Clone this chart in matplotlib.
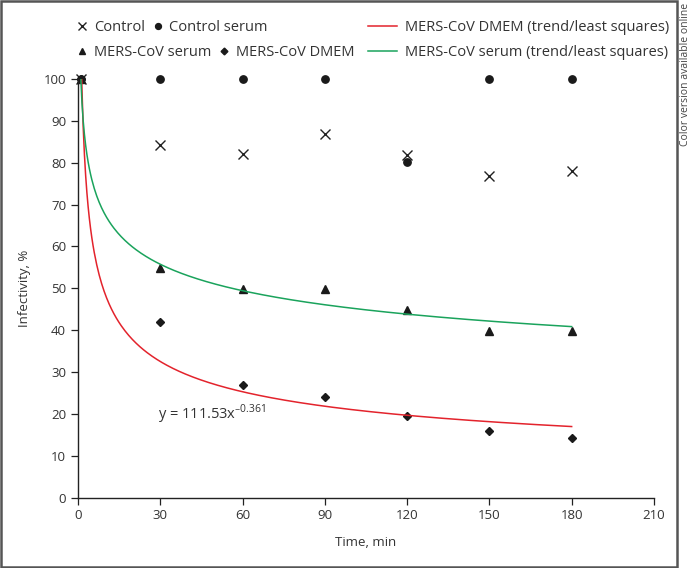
#!/usr/bin python3

# import required libraries
import numpy as np
import matplotlib
matplotlib.use("Agg")
import matplotlib.pyplot as plt
from matplotlib.patches import Rectangle

plt.rcParams['font.family'] = ['Open Sans', 'DejaVu Sans']

# time points, min (first point at 1 min so the power trend can be fitted)
time = [1, 30, 60, 90, 120, 150, 180]

control = [100, 84.3, 82.0, 86.8, 81.8, 76.8, 78.1]
control_serum = [100, 100, 100, 100, 80.2, 100, 100]
mers_serum = [100, 54.8, 49.8, 49.8, 44.7, 39.8, 39.8]
mers_dmem = [100, 42.0, 27.0, 24.1, 19.6, 15.8, 14.3]

x_ticks = [0, 30, 60, 90, 120, 150, 180, 210]
y_ticks = [0, 10, 20, 30, 40, 50, 60, 70, 80, 90, 100]


def power_trend(x, y):
    # least squares in log space, like a spreadsheet power trendline
    b, log_a = np.polyfit(np.log(x), np.log(y), 1)
    return np.exp(log_a), b


def main():
    fig = plt.figure(figsize=(6.92, 5.68), dpi=100)
    ax = fig.add_axes([0.1127, 0.124, 0.8323, 0.737])

    ax.plot(time, control, linestyle='none', marker='x', color='#222222',
            markersize=7, markeredgewidth=1.0, label='Control', clip_on=False)
    ax.plot(time, control_serum, linestyle='none', marker='o', color='#1a1a1a',
            markersize=5.3, label='Control serum', clip_on=False)
    ax.plot(time, mers_serum, linestyle='none', marker='^', color='#1a1a1a',
            markersize=5.8, label='MERS-CoV serum', clip_on=False)
    ax.plot(time, mers_dmem, linestyle='none', marker='D', color='#1a1a1a',
            markersize=4.3, label='MERS-CoV DMEM', clip_on=False)

    xs = np.linspace(1, 180, 400)
    a_d, b_d = power_trend(time, mers_dmem)
    a_s, b_s = power_trend(time, mers_serum)
    red, = ax.plot(xs, a_d * xs ** b_d, color='#e3232c', linewidth=1.1,
                   label='MERS-CoV DMEM (trend/least squares)')
    green, = ax.plot(xs, a_s * xs ** b_s, color='#1aa35c', linewidth=1.1,
                     label='MERS-CoV serum (trend/least squares)')

    ax.text(29, 19.9, 'y = 111.53x$^{\\mathregular{\u20130.361}}$', fontsize=10.5,
            color='#333333', va='center')

    ax.set_xlim(0, 210)
    ax.set_ylim(0, 100)
    ax.set_xticks(x_ticks)
    ax.set_yticks(y_ticks)
    ax.spines['top'].set_visible(False)
    ax.spines['right'].set_visible(False)
    for s in ['left', 'bottom']:
        ax.spines[s].set_color('#222222')
        ax.spines[s].set_linewidth(1.0)
    ax.tick_params(direction='out', length=5, width=0.9, colors='#222222',
                   labelsize=9.5, labelcolor='#333333')
    ax.set_xlabel('Time, min', fontsize=9.5, color='#333333', labelpad=10)
    ax.set_ylabel('Infectivity, %', fontsize=9.5, color='#333333', labelpad=9)

    # legend laid out in rows like the original
    h = ax.get_legend_handles_labels()[0]
    opts = dict(frameon=False, fontsize=10.5, handletextpad=0.3, borderpad=0,
                borderaxespad=0, columnspacing=0.4, handlelength=1.0,
                labelcolor='#333333', markerscale=0.8)
    fig.legend(h[0:2], ['Control', 'Control serum'], ncol=2,
               loc='center left', bbox_to_anchor=(0.108, 0.951), **opts)
    fig.legend(h[2:4], ['MERS-CoV serum', 'MERS-CoV DMEM'], ncol=2,
               loc='center left', bbox_to_anchor=(0.108, 0.907), **opts)
    opts['handlelength'] = 2.0
    opts['handletextpad'] = 0.55
    fig.legend([red], [red.get_label()], loc='center left',
               bbox_to_anchor=(0.532, 0.951), **opts)
    fig.legend([green], [green.get_label()], loc='center left',
               bbox_to_anchor=(0.532, 0.907), **opts)

    # frame around the figure and side note
    fig.patches.append(Rectangle((0.001, 0.002), 0.977, 0.996,
                                 transform=fig.transFigure, fill=False,
                                 edgecolor='#555555', linewidth=1.8))
    fig.text(0.991, 0.995, 'Color version available online', rotation=90,
             ha='center', va='top', fontsize=7.5, color='#444444')

    plt.savefig('out.png', dpi=100)


if __name__ == '__main__':
    main()
